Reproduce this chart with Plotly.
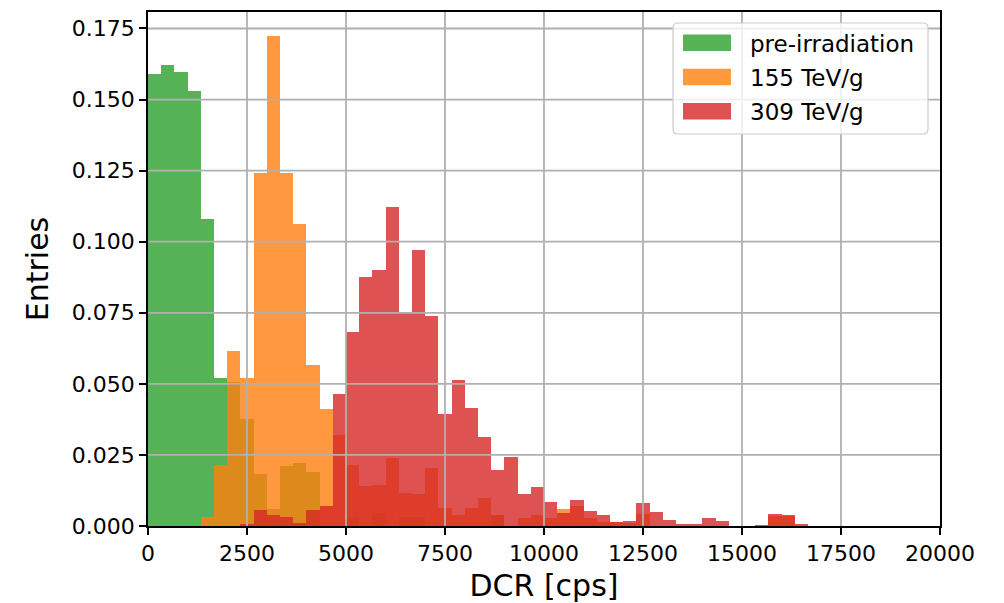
import plotly.graph_objects as go

# Histogram binning: 60 equal bins between 0 and 20000 cps
X_MIN, X_MAX, N_BINS = 0, 20000, 60
BIN_W = (X_MAX - X_MIN) / N_BINS

series_names = ["pre-irradiation", "155 TeV/g", "309 TeV/g"]
series_colors = ["#2ca02c", "#ff7f0e", "#d62728"]

# Fraction of entries per bin (bin 0 .. bin 59)
pre_irradiation = [
    0.1590, 0.1620, 0.1597, 0.1531, 0.1079, 0.0520, 0.0506, 0.0377, 0.0184, 0.0061,
    0.0210, 0.0221, 0.0190, 0.0000, 0.0000, 0.0033, 0.0000, 0.0045, 0.0000, 0.0033,
    0.0030, 0.0000, 0.0000, 0.0000, 0.0000, 0.0000, 0.0040, 0.0000, 0.0000, 0.0000,
    0.0000, 0.0000, 0.0000, 0.0000, 0.0000, 0.0000, 0.0000, 0.0000, 0.0000, 0.0000,
    0.0000, 0.0000, 0.0000, 0.0000, 0.0000, 0.0000, 0.0000, 0.0000, 0.0000, 0.0000,
    0.0000, 0.0000, 0.0000, 0.0000, 0.0000, 0.0000, 0.0000, 0.0000, 0.0000, 0.0000,
]
tev_155 = [
    0.0000, 0.0000, 0.0000, 0.0000, 0.0031, 0.0213, 0.0614, 0.0520, 0.1242, 0.1724,
    0.1242, 0.1061, 0.0565, 0.0410, 0.0320, 0.0213, 0.0139, 0.0143, 0.0239, 0.0116,
    0.0113, 0.0204, 0.0063, 0.0040, 0.0063, 0.0098, 0.0037, 0.0000, 0.0028, 0.0037,
    0.0029, 0.0061, 0.0069, 0.0029, 0.0013, 0.0013, 0.0010, 0.0043, 0.0000, 0.0000,
    0.0000, 0.0000, 0.0000, 0.0000, 0.0000, 0.0000, 0.0000, 0.0034, 0.0036, 0.0000,
    0.0000, 0.0000, 0.0000, 0.0000, 0.0000, 0.0000, 0.0000, 0.0000, 0.0000, 0.0000,
]
tev_309 = [
    0.0000, 0.0000, 0.0000, 0.0000, 0.0000, 0.0000, 0.0000, 0.0008, 0.0057, 0.0037,
    0.0033, 0.0010, 0.0055, 0.0072, 0.0465, 0.0684, 0.0876, 0.0900, 0.1123, 0.0749,
    0.0970, 0.0739, 0.0393, 0.0512, 0.0416, 0.0313, 0.0198, 0.0242, 0.0113, 0.0137,
    0.0086, 0.0045, 0.0092, 0.0052, 0.0039, 0.0013, 0.0019, 0.0082, 0.0050, 0.0022,
    0.0008, 0.0004, 0.0029, 0.0016, 0.0000, 0.0000, 0.0003, 0.0043, 0.0039, 0.0005,
    0.0000, 0.0000, 0.0000, 0.0000, 0.0000, 0.0000, 0.0000, 0.0000, 0.0000, 0.0000,
]

x_ticks = [0, 2500, 5000, 7500, 10000, 12500, 15000, 17500, 20000]
y_ticks = [0.0, 0.025, 0.05, 0.075, 0.1, 0.125, 0.15, 0.175]
Y_MAX = 0.1808

bin_centers = [X_MIN + (i + 0.5) * BIN_W for i in range(N_BINS)]

FONT = "DejaVu Sans"
W, H = 1004, 603
M_L, M_R, M_T, M_B = 148, 64, 12, 77

fig = go.Figure()
for name, color, values in zip(series_names, series_colors,
                               [pre_irradiation, tev_155, tev_309]):
    fig.add_trace(go.Bar(
        x=bin_centers, y=values, width=BIN_W, name=name,
        marker=dict(color=color, line=dict(width=0)),
        opacity=0.8, showlegend=False,
    ))

shapes = []
# grid drawn over the bars
for xv in x_ticks[1:-1]:
    shapes.append(dict(type="line", xref="x", yref="paper", x0=xv, x1=xv, y0=0, y1=1,
                       line=dict(color="#b0b0b0", width=1.8), layer="above"))
for yv in y_ticks[1:]:
    shapes.append(dict(type="line", xref="paper", yref="y", x0=0, x1=1, y0=yv, y1=yv,
                       line=dict(color="#b0b0b0", width=1.8), layer="above"))

# legend box (pixel geometry converted to paper fractions)
pw, ph = W - M_L - M_R, H - M_T - M_B


def px_x(p):
    return (p - M_L) / pw


def px_y(p):
    return (H - M_B - p) / ph


bx0, bx1, by0, by1 = px_x(673), px_x(928), px_y(134), px_y(23)
rx, ry = 5 / pw, 5 / ph
box_path = (
    f"M{bx0+rx},{by0} L{bx1-rx},{by0} Q{bx1},{by0} {bx1},{by0+ry} "
    f"L{bx1},{by1-ry} Q{bx1},{by1} {bx1-rx},{by1} "
    f"L{bx0+rx},{by1} Q{bx0},{by1} {bx0},{by1-ry} "
    f"L{bx0},{by0+ry} Q{bx0},{by0} {bx0+rx},{by0} Z"
)
shapes.append(dict(type="path", xref="paper", yref="paper", path=box_path,
                   fillcolor="rgba(255,255,255,0.8)",
                   line=dict(color="#cccccc", width=1.2), layer="above"))

annotations = []
row_centers = [42.7, 77.0, 111.3]
for name, color, cy in zip(series_names, series_colors, row_centers):
    shapes.append(dict(type="rect", xref="paper", yref="paper",
                       x0=px_x(683), x1=px_x(731), y0=px_y(cy + 8.3), y1=px_y(cy - 8.3),
                       fillcolor=color, opacity=0.8, line=dict(width=0), layer="above"))
    annotations.append(dict(xref="paper", yref="paper", x=px_x(748), y=px_y(cy + 1),
                            text=name, showarrow=False, xanchor="left", yanchor="middle",
                            font=dict(family=FONT, size=23, color="black")))

axis_common = dict(
    showline=True, linecolor="black", linewidth=1.6, mirror=True,
    ticks="outside", ticklen=7, tickwidth=1.6, tickcolor="black",
    showgrid=False, zeroline=False, layer="above traces", automargin=False,
    tickfont=dict(family=FONT, size=22, color="black"),
)

fig.update_layout(
    width=W, height=H,
    margin=dict(l=M_L, r=M_R, t=M_T, b=M_B),
    paper_bgcolor="white", plot_bgcolor="white",
    barmode="overlay", bargap=0,
    shapes=shapes, annotations=annotations,
    xaxis=dict(range=[X_MIN, X_MAX], tickvals=x_ticks,
               ticktext=[str(v) for v in x_ticks],
               title=dict(text="DCR [cps]", font=dict(family=FONT, size=30, color="black"),
                          standoff=10),
               **axis_common),
    yaxis=dict(range=[0, Y_MAX], tickvals=y_ticks,
               ticktext=[f"{v:.3f}" for v in y_ticks],
               title=dict(text="Entries", font=dict(family=FONT, size=30, color="black"),
                          standoff=14),
               **axis_common),
)

fig.write_html("out.html")
